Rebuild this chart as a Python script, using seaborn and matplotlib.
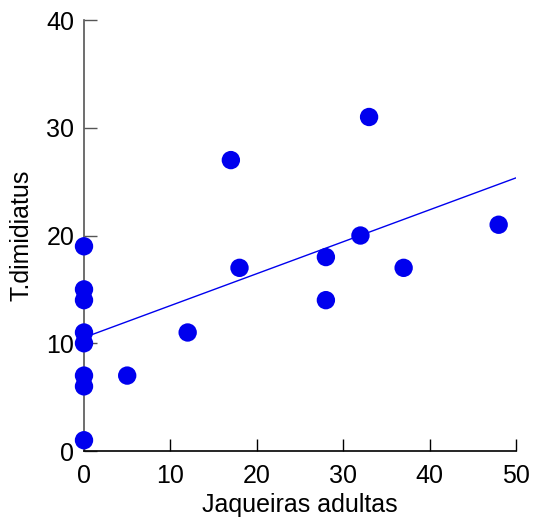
import numpy as np
import pandas as pd
import seaborn as sns
import matplotlib
matplotlib.use("Agg")
import matplotlib.pyplot as plt

jaqueiras = [0, 0, 0, 0, 0, 0, 0, 0, 5, 12, 17, 18, 28, 28, 32, 33, 37, 48]
dimidiatus = [19, 15, 14, 11, 10, 7, 6, 1, 7, 11, 27, 17, 18, 14, 20, 31, 17, 21]
x_ticks = [0, 10, 20, 30, 40, 50]
y_ticks = [0, 10, 20, 30, 40]

df = pd.DataFrame({"Jaqueiras adultas": jaqueiras, "T.dimidiatus": dimidiatus})

sns.set_style("white")
plt.rcParams["font.family"] = ["Liberation Sans", "DejaVu Sans"]

fig = plt.figure(figsize=(5.33, 5.27), dpi=100)
ax = fig.add_axes([0.1576, 0.1442, 0.968 - 0.1576, 0.962 - 0.1442])

sns.scatterplot(data=df, x="Jaqueiras adultas", y="T.dimidiatus", ax=ax,
                color="#0000ee", s=175, edgecolor="none", clip_on=False, zorder=3)

slope, intercept = np.polyfit(df["Jaqueiras adultas"], df["T.dimidiatus"], 1)
fit = pd.DataFrame({"x": [0, 50]})
fit["y"] = intercept + slope * fit["x"]
sns.lineplot(data=fit, x="x", y="y", ax=ax, color="#0000ee", linewidth=1.0, zorder=2)

ax.set_xlim(0, 50)
ax.set_ylim(0, 40)
ax.set_xticks(x_ticks)
ax.set_yticks(y_ticks)
ax.tick_params(bottom=True, left=True, direction="in", length=9, width=1,
               labelsize=18, colors="black")
ax.tick_params(axis="x", pad=9)
ax.tick_params(axis="y", pad=7, color="#555555")
ax.set_xlabel("Jaqueiras adultas", fontsize=18, labelpad=4, color="black")
ax.set_ylabel("T.dimidiatus", fontsize=18, labelpad=9, color="black")
for s in ["top", "right"]:
    ax.spines[s].set_visible(False)
ax.spines["left"].set_color("#555555")
ax.spines["bottom"].set_color("black")
ax.spines["left"].set_linewidth(1.2)
ax.spines["bottom"].set_linewidth(1.2)

fig.savefig("out.png", dpi=100)
